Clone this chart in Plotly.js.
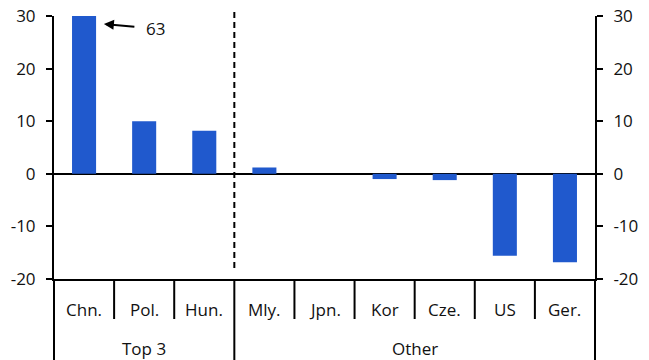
<!DOCTYPE html>
<html><head><meta charset="utf-8">
<script src="https://cdn.plot.ly/plotly-3.0.1.min.js"></script>
<style>html,body{margin:0;padding:0;background:#fff}#c{width:649px;height:360px}</style>
</head><body><div id="c"></div>
<script>
var categories = ['Chn.','Pol.','Hun.','Mly.','Jpn.','Kor','Cze.','US','Ger.'];
var values = [63, 10, 8.2, 1.2, 0, -1.0, -1.2, -15.6, -16.8];
var groups = ['Top 3','Other'];
var groupSizes = [3, 6];
var yTicks = [-20, -10, 0, 10, 20, 30];
var chnLabel = '63';

var FONT = 'Open Sans, Noto Sans, sans-serif';
var FS = 17;
var BLUE = '#2059cd';
var idx = categories.map(function(_, i){ return i; });

var traces = [
  {type:'bar', x: idx, y: values, marker:{color: BLUE}, width: 0.4, hoverinfo:'skip'},
  {type:'scatter', x: idx, y: values.map(function(){return null;}), yaxis:'y2', mode:'markers', showlegend:false, hoverinfo:'skip'}
];

var yax = {
  range:[-20,30], tickvals: yTicks, ticktext: yTicks.map(String), showgrid:false,
  showline:true, linecolor:'#000', linewidth:2, ticks:'outside', ticklen:6, tickwidth:2, tickcolor:'#000',
  zeroline:true, zerolinecolor:'#000', zerolinewidth:2,
  tickfont:{family:FONT, size:FS, color:'#111'}, fixedrange:true, ticklabelstandoff: 7
};
var y2 = JSON.parse(JSON.stringify(yax));
y2.overlaying = 'y'; y2.side = 'right'; y2.zeroline = false;

var shapes = [];
var annotations = [];
var rowB = -40/263, rowG = -81/263;
var start = 0;
groupSizes.forEach(function(n, g){
  for (var k = start; k < start + n - 1; k++) {
    shapes.push({type:'line', xref:'x', yref:'paper', x0:k+0.5, x1:k+0.5, y0:0, y1:rowB, line:{color:'#000', width:2}});
  }
  annotations.push({xref:'x', yref:'paper', x: start + (n-1)/2, y: -69/263, text: groups[g], showarrow:false,
    font:{family:FONT, size:FS, color:'#111'}, yanchor:'middle'});
  start += n;
});
shapes.push({type:'line', xref:'x', yref:'paper', x0:2.5, x1:2.5, y0:0, y1:rowG, line:{color:'#000', width:2}});
shapes.push({type:'line', xref:'paper', yref:'paper', x0:0, x1:0, y0:0, y1:rowG, line:{color:'#000', width:2}});
shapes.push({type:'line', xref:'paper', yref:'paper', x0:1, x1:1, y0:0, y1:rowG, line:{color:'#000', width:2}});
shapes.push({type:'line', xref:'x', yref:'paper', x0:2.5, x1:2.5, y0:11/263, y1:1.015, line:{color:'#000', width:2, dash:'6px,4px'}});

categories.forEach(function(c, i){
  annotations.push({xref:'x', yref:'paper', x:i, y:-30/263, text:c, showarrow:false,
    font:{family:FONT, size:FS, color:'#111'}, yanchor:'middle'});
});
annotations.push({xref:'x', yref:'y', x:0.33, y:28.5, text:'', showarrow:true, arrowhead:2, arrowsize:1, arrowwidth:2,
  arrowcolor:'#000', ax:32, ay:3, axref:'pixel', ayref:'pixel'});
annotations.push({xref:'x', yref:'y', x:1.19, y:27.7, text:chnLabel, showarrow:false, xanchor:'center', yanchor:'middle',
  font:{family:FONT, size:FS, color:'#111'}});

var layout = {
  width:649, height:360, margin:{l:54, r:54, t:16, b:81},
  paper_bgcolor:'#fff', plot_bgcolor:'#fff', showlegend:false, bargap:0.6,
  xaxis:{range:[-0.5, 8.5], showticklabels:false, showgrid:false, zeroline:false, showline:true, linecolor:'#000', linewidth:2, ticks:'', fixedrange:true},
  yaxis: yax, yaxis2: y2, shapes: shapes, annotations: annotations
};
Plotly.newPlot('c', traces, layout, {staticPlot:true, displayModeBar:false});
</script></body></html>
